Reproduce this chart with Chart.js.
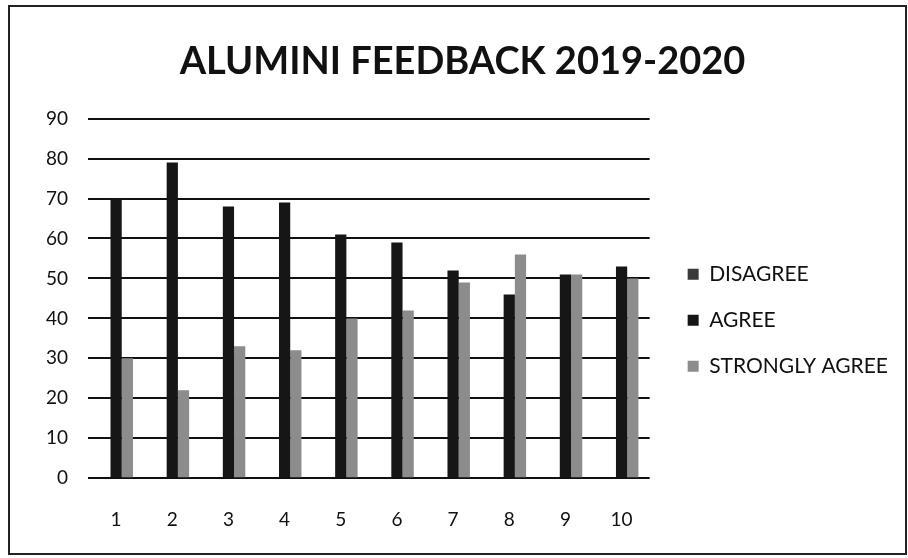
<!DOCTYPE html>
<html>
<head>
<meta charset="utf-8">
<script src="https://cdn.jsdelivr.net/npm/chart.js@4"></script>
<style>
  html, body { margin: 0; padding: 0; background: #fff; }
  #box {
    position: absolute; left: 8px; top: 5px;
    width: 895px; height: 546px;
    border: 2px solid #222;
  }
</style>
</head>
<body>
<div id="box"><canvas id="feedbackChart" width="895" height="546"></canvas></div>
<script>
// valores
const categorias = ['1', '2', '3', '4', '5', '6', '7', '8', '9', '10'];
const disagree = [0, 0, 0, 0, 0, 0, 0, 0, 0, 0];
const agree = [70, 79, 68, 69, 61, 59, 52, 46, 51, 53];
const stronglyAgree = [30, 22, 33, 32, 40, 42, 49, 56, 51, 50];
const yTicks = [0, 10, 20, 30, 40, 50, 60, 70, 80, 90];

const fuente = 'Lato, "Open Sans", sans-serif';

// deja mas espacio entre el grafico y la leyenda
const espacioLeyenda = {
    id: 'espacioLeyenda',
    afterInit(chart) {
        const lg = chart.legend;
        const fitOriginal = lg.fit.bind(lg);
        const drawOriginal = lg.draw.bind(lg);
        lg.fit = function () {
            fitOriginal();
            this.width += 14;
        };
        lg.draw = function () {
            const ctx = this.ctx;
            ctx.save();
            ctx.translate(13, 0);
            drawOriginal();
            ctx.restore();
        };
    }
};

const data = {
    labels: categorias,
    datasets: [
        { label: 'DISAGREE', data: disagree, backgroundColor: '#3a3a3a' },
        { label: 'AGREE', data: agree, backgroundColor: '#161616' },
        { label: 'STRONGLY AGREE', data: stronglyAgree, backgroundColor: '#8c8c8c' }
    ]
};

const config = {
    type: 'bar',
    data: data,
    plugins: [espacioLeyenda],
    options: {
        responsive: false,
        animation: false,
        datasets: {
            bar: { categoryPercentage: 0.6, barPercentage: 1.0 }
        },
        layout: { padding: { left: 16, right: 6, top: 16, bottom: 0 } },
        plugins: {
            title: {
                display: true,
                text: 'ALUMINI FEEDBACK 2019-2020',
                color: '#111',
                font: { family: fuente, size: 38, weight: 'bold' },
                padding: { top: 16, bottom: 34 }
            },
            legend: {
                position: 'right',
                maxWidth: 320,
                title: {
                    display: true,
                    text: ' ',
                    padding: { top: 50, bottom: 0 }
                },
                labels: {
                    color: '#111',
                    font: { family: fuente, size: 21 },
                    boxWidth: 11,
                    boxHeight: 11,
                    padding: 25
                }
            },
            tooltip: { enabled: false }
        },
        scales: {
            x: {
                grid: { display: false },
                border: { display: false },
                ticks: {
                    color: '#111',
                    padding: 22,
                    font: { family: fuente, size: 19 }
                }
            },
            y: {
                min: 0,
                max: 90,
                afterBuildTicks: (axis) => { axis.ticks = yTicks.map(v => ({ value: v })); },
                grid: { color: '#111', lineWidth: 2, drawTicks: false },
                border: { display: false },
                ticks: {
                    color: '#111',
                    padding: 20,
                    font: { family: fuente, size: 19 }
                }
            }
        }
    }
};

const feedbackChart = new Chart(document.getElementById('feedbackChart'), config);
</script>
</body>
</html>
